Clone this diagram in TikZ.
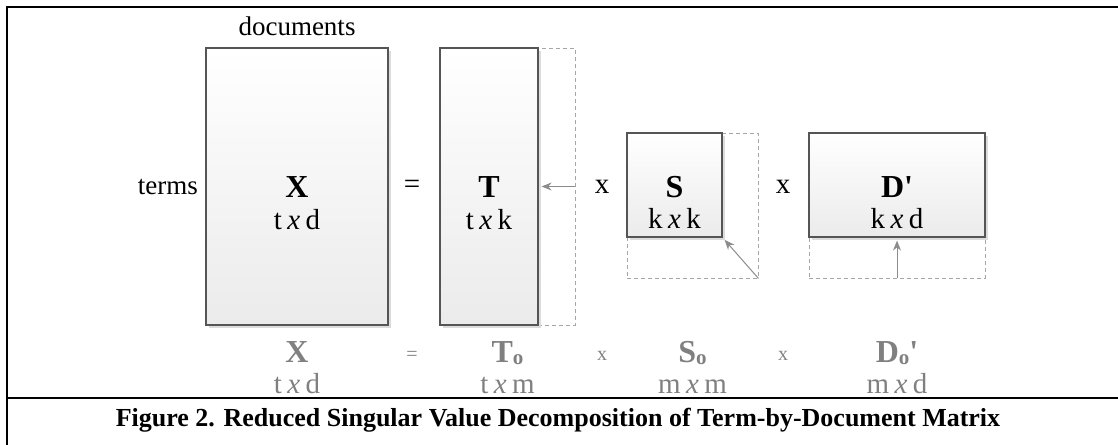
\documentclass[tikz,border=0pt]{standalone}
\usepackage{fontspec}
\setmainfont{Liberation Serif}
\usetikzlibrary{arrows.meta,shadows}
\definecolor{boxline}{HTML}{555555}
\definecolor{dashcol}{HTML}{A6A6A6}
\definecolor{arrcol}{HTML}{8C8C8C}
\definecolor{dimtext}{HTML}{808080}
\definecolor{shadowcol}{HTML}{DCDCDC}
\definecolor{boxbottom}{HTML}{EBEBEB}
\newcommand{\dims}[2]{#1\hspace{5.5pt}\textit{x}\hspace{5.5pt}#2}
\newcommand{\subo}[1]{#1\raisebox{-2pt}{\fontsize{21}{21}\selectfont o}}
\begin{document}
\begin{tikzpicture}[x=1pt,y=-1pt,
  mbox/.style={draw=boxline, line width=1.2pt, top color=white, bottom color=boxbottom,
    inner sep=0pt, drop shadow={shadow xshift=3pt, shadow yshift=-3pt, fill=shadowcol, opacity=1}},
  dashbox/.style={draw=dashcol, line width=0.9pt, dash pattern=on 4pt off 3pt, inner sep=0pt},
  conn/.style={draw=arrcol, line width=1pt, -{Stealth[length=10pt,width=8pt]}, shorten >=3pt},
  lbl/.style={anchor=base, inner sep=0pt, font=\fontsize{32}{36}\selectfont\bfseries},
  dimlbl/.style={anchor=base, inner sep=0pt, font=\fontsize{29}{33}\selectfont},
  word/.style={anchor=base, inner sep=0pt, font=\fontsize{27}{32}\selectfont},
  op/.style={inner sep=0pt, font=\fontsize{29}{33}\selectfont},
  gray/.style={text=dimtext},
  smallop/.style={inner sep=0pt, text=dimtext, font=\fontsize{20}{24}\selectfont}
]
\useasboundingbox (0,0) rectangle (1118,444);
% frame
\draw[line width=2pt] (7,450) -- (7,7) -- (1125,7);
\draw[line width=2pt] (7,398) -- (1125,398);
% dashed full-size outlines
\node[dashbox, minimum width=135pt, minimum height=277pt] (Tfull) at (507.5,186.5) {};
\node[dashbox, minimum width=131pt, minimum height=145pt] (Sfull) at (692.5,205.5) {};
\node[dashbox, minimum width=176pt, minimum height=145pt] (Dfull) at (897,205.5) {};
% matrices
\node[mbox, minimum width=182pt, minimum height=277pt] (X) at (297,186.5) {};
\node[mbox, minimum width=98pt, minimum height=277pt] (T) at (489,186.5) {};
\node[mbox, minimum width=95pt, minimum height=104pt] (S) at (674.5,185) {};
\node[mbox, minimum width=176pt, minimum height=104pt] (D) at (897,185) {};
% connectors
\draw[conn] (Tfull.east) -- (T.east);
\draw[conn] (Sfull.south east) -- (S.south east);
\draw[conn] (Dfull.south) -- (D.south);
% top labels
\node[word] (docs) at (297,36) {documents};
\node[word, anchor=base east] (terms) at (198,194) {terms};
\node[lbl] (Xl) at (297,197) {X};
\node[dimlbl] (Xd) at (297,229) {\dims{t}{d}};
\node[op] (eq) at (412,187) {=};
\node[lbl] (Tl) at (489,197) {T};
\node[dimlbl] (Td) at (489,229) {\dims{t}{k}};
\node[op] (m1) at (602,187) {x};
\node[lbl] (Sl) at (674.5,197) {S};
\node[dimlbl] (Sd) at (674.5,228) {\dims{k}{k}};
\node[op] (m2) at (783,187) {x};
\node[lbl] (Dl) at (897,197) {D\textquotesingle};
\node[dimlbl] (Dd) at (897,228) {\dims{k}{d}};
% bottom (full SVD) labels
\node[lbl, gray] (Xo) at (297,362) {X};
\node[dimlbl, gray] (Xod) at (297,393) {\dims{t}{d}};
\node[smallop] (eqo) at (412,356) {=};
\node[lbl, gray] (To) at (507.5,362) {\subo{T}};
\node[dimlbl, gray] (Tod) at (507.5,393) {\dims{t}{m}};
\node[smallop] (m1o) at (602,356) {x};
\node[lbl, gray] (So) at (692.5,362) {\subo{S}};
\node[dimlbl, gray] (Sod) at (692.5,393) {\dims{m}{m}};
\node[smallop] (m2o) at (783,356) {x};
\node[lbl, gray] (Do) at (897,362) {\subo{D}\textquotesingle};
\node[dimlbl, gray] (Dod) at (897,393) {\dims{m}{d}};
% caption
\node[anchor=base, inner sep=0pt, font=\fontsize{26}{30}\selectfont\bfseries] (cap) at (558,426)
  {Figure 2. Reduced Singular Value Decomposition of Term-by-Document Matrix};
\end{tikzpicture}
\end{document}
